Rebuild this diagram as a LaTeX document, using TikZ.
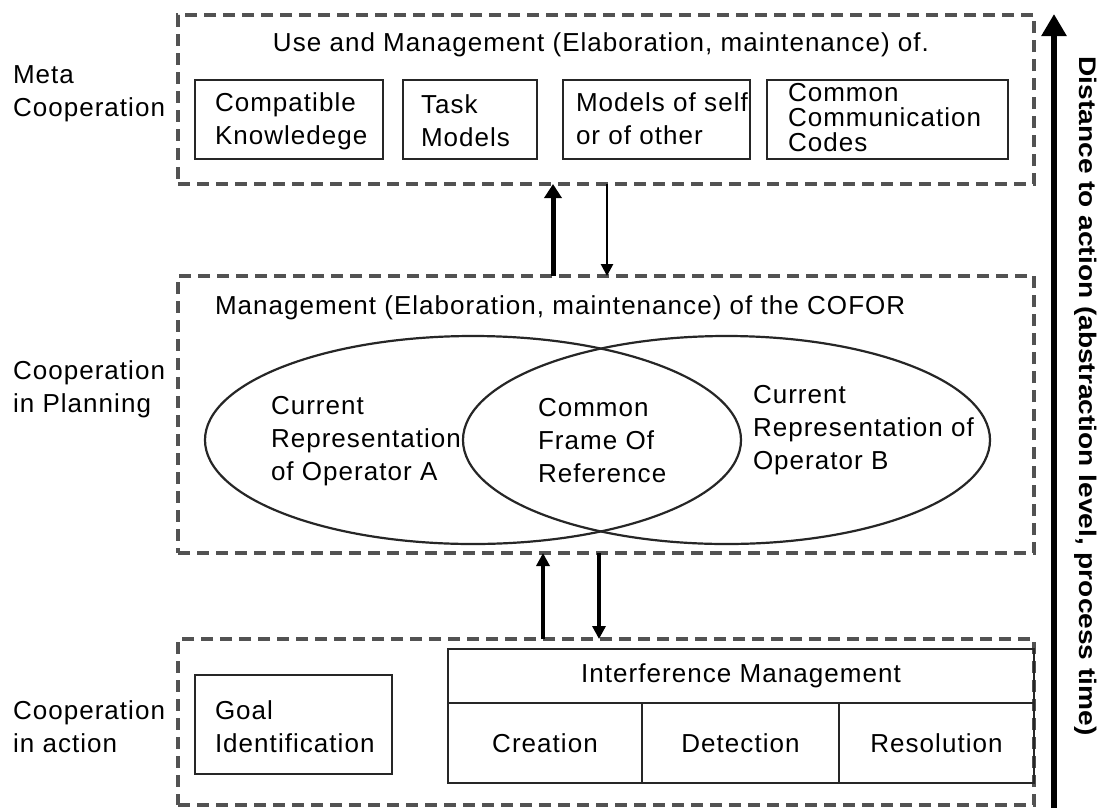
\documentclass[tikz,border=0pt]{standalone}
\usepackage{fontspec}
\setmainfont{Liberation Sans}[LetterSpace=4]
\newfontfamily\vlabfont{Liberation Sans}[LetterSpace=0]
\usetikzlibrary{shapes.geometric,arrows.meta}
\begin{document}
\begin{tikzpicture}[x=1pt,y=-1pt,
  every node/.style={inner sep=0pt, outer sep=0pt},
  lab/.style={font=\fontsize{26}{33}\selectfont, align=left, anchor=west},
  tightlab/.style={font=\fontsize{26}{25}\selectfont, align=left, anchor=west},
  dashbox/.style={draw=black!68, line width=3.4pt, dash pattern=on 12pt off 7pt, rectangle},
  solidbox/.style={draw=black!85, line width=2.4pt, rectangle},
  oval/.style={ellipse, draw=black!85, line width=2.2pt},
  cell/.style={draw=black!85, line width=2.4pt, rectangle, font=\fontsize{26}{33}\selectfont},
  thickup/.style={line width=5pt, -{Triangle[length=14pt,width=17pt]}},
  thinarrow/.style={line width=2.6pt, -{Triangle[length=12pt,width=12pt]}},
  midarrow/.style={line width=3.2pt, -{Triangle[length=13pt,width=13pt]}},
  bigarrow/.style={line width=5.5pt, -{Triangle[length=22pt,width=24pt]}}
]
\useasboundingbox (0,0) rectangle (1098,807);
\fill[white] (0,0) rectangle (1098,807);

% ---- dashed level boxes
\node[dashbox, minimum width=856pt, minimum height=169pt] (metabox) at (606,99.5) {};
\node[dashbox, minimum width=856pt, minimum height=277pt] (planbox) at (606,414.5) {};
\node[dashbox, minimum width=856pt, minimum height=166pt] (actbox) at (606,722) {};

% ---- left labels
\node[lab] (lmeta) at (13,94) {Meta\\Cooperation};
\node[lab] (lplan) at (13,389) {Cooperation\\in Planning};
\node[lab] (lact) at (13,727) {Cooperation\\in action};

% ---- meta cooperation content
\node[font=\fontsize{26}{33}\selectfont] (ttop) at (601,45) {Use and Management (Elaboration, maintenance) of.};
\node[solidbox, minimum width=188pt, minimum height=79pt] (b1) at (289,119.5) {};
\node[solidbox, minimum width=134pt, minimum height=79pt] (b2) at (470,119.5) {};
\node[solidbox, minimum width=187pt, minimum height=79pt] (b3) at (656.5,119.5) {};
\node[solidbox, minimum width=241pt, minimum height=79pt] (b4) at (887.5,119.5) {};
\node[lab] (t1) at (215,121) {Compatible\\Knowledege};
\node[lab] (t2) at (421,121) {Task\\Models};
\node[lab] (t3) at (576,119) {Models of self\\or of other};
\node[tightlab] (t4) at (788,118) {Common\\Communication\\Codes};

% ---- arrows meta <-> planning
\draw[thickup] ([xshift=-53pt]planbox.north) -- ([xshift=-53pt]metabox.south);
\draw[thinarrow] ([xshift=1pt]metabox.south) -- ([xshift=1pt]planbox.north);

% ---- planning content
\node[lab] (tplan) at (215,308) {Management (Elaboration, maintenance) of the COFOR};
\node[oval, minimum width=536pt, minimum height=208pt] (ovA) at (473,440) {};
\node[oval, minimum width=527pt, minimum height=208pt] (ovB) at (726.5,440) {};
\node[lab] (tA) at (271,441) {Current\\Representation\\of Operator A};
\node[lab] (tC) at (538,441) {Common\\Frame Of\\Reference};
\node[lab] (tB) at (753,430) {Current\\Representation of\\Operator B};

% ---- arrows planning <-> action
\draw[midarrow] ([xshift=-63pt]actbox.north) -- ([xshift=-63pt]planbox.south);
\draw[midarrow] ([xshift=-7pt]planbox.south) -- ([xshift=-7pt]actbox.north);

% ---- action content
\node[solidbox, minimum width=197pt, minimum height=99pt] (goal) at (293.5,724.5) {};
\node[lab] (tgoal) at (215,727) {Goal\\Identification};
\node[cell, minimum width=586pt, minimum height=54pt] (imhead) at (741,676) {Interference Management};
\node[cell, minimum width=194pt, minimum height=80pt] (creation) at (545,743) {Creation};
\node[cell, minimum width=197pt, minimum height=80pt] (detection) at (740.5,743) {Detection};
\node[cell, minimum width=195pt, minimum height=80pt] (resolution) at (936.5,743) {Resolution};

% ---- distance axis
\coordinate (axbot) at (1054,810);
\coordinate (axtop) at (1054,14);
\draw[bigarrow] (axbot) -- (axtop);
\node[rotate=-90, font=\vlabfont\bfseries\fontsize{24}{30}\selectfont] (axlab) at (1086,396) {\scalebox{1.17}[1]{Distance to action (abstraction level, process time)}};
\end{tikzpicture}
\end{document}
